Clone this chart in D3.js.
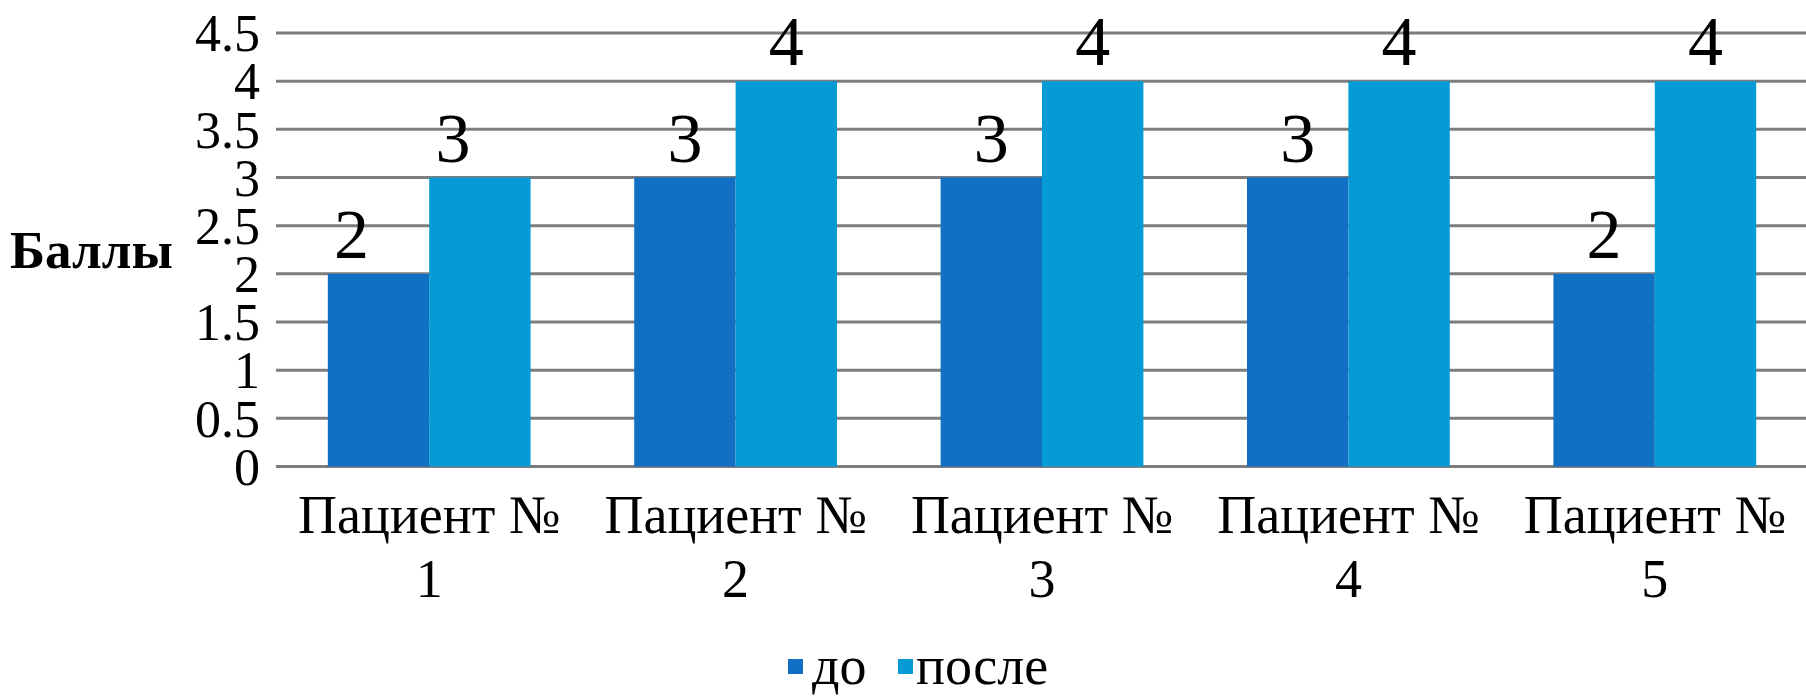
<!DOCTYPE html>
<html>
<head>
<meta charset="utf-8">
<script src="https://cdn.jsdelivr.net/npm/d3@7"></script>
<style>
  html, body { margin: 0; padding: 0; background: #ffffff; }
  svg { display: block; }
  text { font-family: "Liberation Serif", "Times New Roman", serif; fill: #000; }
</style>
</head>
<body>
<svg id="chart" width="1806" height="696"></svg>
<script>
// Scores before and after, per patient
const patients = ["Пациент № 1", "Пациент № 2", "Пациент № 3", "Пациент № 4", "Пациент № 5"];
const seriesNames = ["до", "после"];
const before = [2, 3, 3, 3, 2];
const after = [3, 4, 4, 4, 4];
const yTicks = [0, 0.5, 1, 1.5, 2, 2.5, 3, 3.5, 4, 4.5];
const yTitle = "Баллы";
const colors = ["#1170c4", "#069bd6"];

const rows = patients.map((p, i) => ({ patient: p, values: [before[i], after[i]] }));

const svg = d3.select("#chart");
const W = 1806, H = 696;
const plot = { left: 276, right: 1808, top: 33, bottom: 466.5 };
const serif = '"Liberation Serif", "Times New Roman", serif';

const x0 = d3.scaleBand().domain(patients).range([plot.left, plot.right]).padding(0);
const x1 = d3.scaleBand().domain(seriesNames).range([0, x0.bandwidth()])
  .paddingInner(0).paddingOuter(0.511);
const y = d3.scaleLinear().domain([0, 4.5]).range([plot.bottom, plot.top]);

// Horizontal gridlines
svg.append("g")
  .selectAll("line")
  .data(yTicks)
  .join("line")
  .attr("x1", plot.left)
  .attr("x2", W)
  .attr("y1", d => y(d))
  .attr("y2", d => y(d))
  .attr("stroke", "#7d7d7d")
  .attr("stroke-width", 3);

// Y axis tick labels
const yAxis = d3.axisLeft(y)
  .tickValues(yTicks)
  .tickSize(0)
  .tickPadding(0)
  .tickFormat(d => String(d));
const gy = svg.append("g")
  .attr("transform", `translate(${plot.left - 16},0)`)
  .call(yAxis)
  .attr("font-family", serif);
gy.select(".domain").remove();
gy.selectAll("text")
  .attr("font-family", serif)
  .attr("font-size", 52)
  .attr("fill", "#000")
  .attr("dy", "0.34em");

// Axis title
svg.append("text")
  .attr("x", 10)
  .attr("y", 268)
  .attr("font-family", serif)
  .attr("font-size", 53)
  .attr("font-weight", "bold")
  .text(yTitle);

// Bars
const groups = svg.append("g")
  .selectAll("g")
  .data(rows)
  .join("g")
  .attr("transform", d => `translate(${x0(d.patient)},0)`);

groups.selectAll("rect")
  .data(d => d.values.map((v, k) => ({ key: seriesNames[k], value: v, k })))
  .join("rect")
  .attr("x", d => x1(d.key))
  .attr("width", x1.bandwidth())
  .attr("y", d => y(d.value))
  .attr("height", d => y(0) - y(d.value))
  .attr("fill", d => colors[d.k]);

// Value labels (the first group's labels sit slightly left of their bars)
const firstGroupLabelShift = -27;
groups.selectAll("text.val")
  .data((d, i) => d.values.map((v, k) => ({ key: seriesNames[k], value: v, g: i })))
  .join("text")
  .attr("class", "val")
  .attr("x", d => x1(d.key) + x1.bandwidth() / 2 + (d.g === 0 ? firstGroupLabelShift : 0))
  .attr("y", d => y(d.value) - 16)
  .attr("text-anchor", "middle")
  .attr("font-family", serif)
  .attr("font-size", 70)
  .text(d => d.value);

// Category labels (two lines)
const xAxis = d3.axisBottom(x0).tickSize(0).tickFormat("");
const gx = svg.append("g").attr("transform", `translate(0,${plot.bottom})`).call(xAxis);
gx.select(".domain").remove();
gx.selectAll(".tick").each(function(d) {
  const parts = d.split(" ");
  const num = parts.pop();
  const t = d3.select(this).append("text")
    .attr("text-anchor", "middle")
    .attr("font-family", serif)
    .attr("font-size", 54)
    .attr("fill", "#000");
  t.append("tspan").attr("x", 0).attr("y", 533 - plot.bottom).text(parts.join(" "));
  t.append("tspan").attr("x", 0).attr("y", 597 - plot.bottom).text(num);
});

// Legend
const legendItems = [
  { name: seriesNames[0], color: colors[0], sx: 788, tx: 812 },
  { name: seriesNames[1], color: colors[1], sx: 898, tx: 916 }
];
const lg = svg.append("g");
lg.selectAll("rect")
  .data(legendItems)
  .join("rect")
  .attr("x", d => d.sx)
  .attr("y", 659)
  .attr("width", 15)
  .attr("height", 15)
  .attr("fill", d => d.color);
lg.selectAll("text")
  .data(legendItems)
  .join("text")
  .attr("x", d => d.tx)
  .attr("y", 684)
  .attr("font-family", serif)
  .attr("font-size", 54)
  .text(d => d.name);
</script>
</body>
</html>
